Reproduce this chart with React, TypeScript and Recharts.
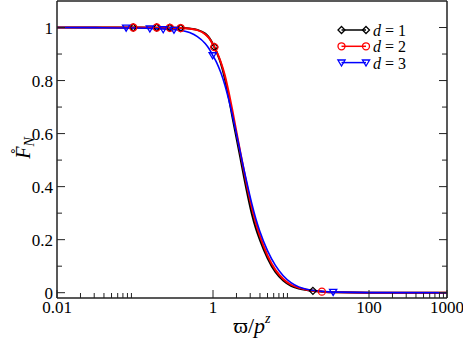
import { ComposedChart, Line, Scatter, XAxis, YAxis, Legend } from "recharts";

// curve samples (x is log-scaled)
const xGrid = [0.01, 0.0316, 0.1, 0.2, 0.316, 0.398, 0.501, 0.631, 0.794, 0.891, 1, 1.122, 1.259, 1.413, 1.585, 1.778, 1.995, 2.239, 2.512, 2.818, 3.162, 3.548, 3.981, 5.012, 6.31, 7.943, 10, 12.59, 15.85, 25.12, 39.81, 100, 1000];
const fD1 = [1, 1, 1, 0.9995, 0.999, 0.998, 0.996, 0.991, 0.977, 0.962, 0.937, 0.905, 0.865, 0.81, 0.74, 0.66, 0.585, 0.51, 0.432, 0.36, 0.295, 0.242, 0.2, 0.13, 0.078, 0.046, 0.026, 0.016, 0.01, 0.004, 0.0015, 0.0002, 0];
const fD2 = [1, 1, 1, 0.9995, 0.999, 0.998, 0.995, 0.99, 0.975, 0.96, 0.936, 0.906, 0.87, 0.822, 0.758, 0.685, 0.607, 0.53, 0.455, 0.383, 0.318, 0.262, 0.215, 0.14, 0.086, 0.052, 0.03, 0.018, 0.011, 0.004, 0.0015, 0.0002, 0];
const fD3 = [1, 0.9995, 0.998, 0.995, 0.992, 0.989, 0.981, 0.966, 0.94, 0.92, 0.893, 0.866, 0.83, 0.785, 0.73, 0.668, 0.6, 0.53, 0.46, 0.395, 0.333, 0.278, 0.232, 0.158, 0.103, 0.064, 0.038, 0.022, 0.013, 0.005, 0.002, 0.0003, 0];

// symbol positions
const markX1 = [0.095, 0.19, 0.28, 0.385, 1.04, 19.1];
const markY1 = [1, 1, 0.999, 0.998, 0.927, 0.007];
const markX2 = [0.095, 0.19, 0.28, 0.385, 1.04, 24.9];
const markY2 = [1, 1, 0.999, 0.998, 0.926, 0.004];
const markX3 = [0.077, 0.155, 0.23, 0.316, 0.99, 34.7];
const markY3 = [0.999, 0.996, 0.993, 0.991, 0.895, 0.0025];

const xMajor = [0.01, 1, 100, 1000];
const xMajorLabels = ["0.01", "1", "100", "1000"];
const xMinor = [0.02, 0.03, 0.04, 0.05, 0.06, 0.07, 0.08, 0.09, 2, 3, 4, 5, 6, 7, 8, 9, 200, 300, 400, 500, 600, 700, 800, 900];
const yMajor = [0, 0.2, 0.4, 0.6, 0.8, 1];
const yMajorLabels = ["0", "0.2", "0.4", "0.6", "0.8", "1"];
const yMinor = [0.1, 0.3, 0.5, 0.7, 0.9];

const legendNames = ["1", "2", "3"];

const FONT = '"Liberation Serif", "Times New Roman", serif';
const AXIS = "#222";
const BLACK = "#000000";
const RED = "#ff0000";
const BLUE = "#0000ff";

const toPoints = (xs: number[], ys: number[]) => xs.map((x, i) => ({ x, y: ys[i] }));
const curve1 = toPoints(xGrid, fD1);
const curve2 = toPoints(xGrid, fD2);
const curve3 = toPoints(xGrid, fD3);
const marks1 = toPoints(markX1, markY1);
const marks2 = toPoints(markX2, markY2);
const marks3 = toPoints(markX3, markY3);

const Diamond = ({ cx, cy, color }: any) => (
  <path d={`M${cx} ${cy - 3.5}L${cx + 3.5} ${cy}L${cx} ${cy + 3.5}L${cx - 3.5} ${cy}Z`} fill="none" stroke={color} strokeWidth={1.3} />
);
const Ring = ({ cx, cy, color }: any) => <circle cx={cx} cy={cy} r={3.5} fill="none" stroke={color} strokeWidth={1.3} />;
const TriDown = ({ cx, cy, color }: any) => (
  <path d={`M${cx - 3.6} ${cy - 2.6}L${cx + 3.6} ${cy - 2.6}L${cx} ${cy + 3.4}Z`} fill="none" stroke={color} strokeWidth={1.3} />
);

const labelOf = (v: number, majors: number[], labels: string[]) => {
  const i = majors.indexOf(v);
  return i >= 0 ? labels[i] : null;
};

const BottomTick = ({ x, y, payload }: any) => {
  const lab = labelOf(payload.value, xMajor, xMajorLabels);
  return (
    <g>
      <line x1={x} x2={x} y1={y} y2={y - (lab ? 8 : 5)} stroke={AXIS} />
      {lab && (
        <text x={x} y={y + 15} textAnchor="middle" fontSize={17} fontFamily={FONT} fill="#000">
          {lab}
        </text>
      )}
    </g>
  );
};
const TopTick = ({ x, y, payload }: any) => {
  const major = xMajor.includes(payload.value);
  return <line x1={x} x2={x} y1={y} y2={y + (major ? 8 : 5)} stroke={AXIS} />;
};
const LeftTick = ({ x, y, payload }: any) => {
  const lab = labelOf(payload.value, yMajor, yMajorLabels);
  return (
    <g>
      <line x1={x} x2={x + (lab ? 8 : 5)} y1={y} y2={y} stroke={AXIS} />
      {lab && (
        <text x={x - 4} y={y + 6} textAnchor="end" fontSize={17} fontFamily={FONT} fill="#000">
          {lab}
        </text>
      )}
    </g>
  );
};
const RightTick = ({ x, y, payload }: any) => {
  const major = yMajor.includes(payload.value);
  return <line x1={x} x2={x - (major ? 8 : 5)} y1={y} y2={y} stroke={AXIS} />;
};

const series = [
  { color: BLACK, Mark: Diamond },
  { color: RED, Mark: Ring },
  { color: BLUE, Mark: TriDown },
];

const LegendBox = () => (
  <svg width={110} height={52} style={{ overflow: "visible" }}>
    {series.map((s, i) => {
      const cy = 10 + i * 16.3;
      return (
        <g key={i}>
          <line x1={5.5} x2={30} y1={cy} y2={cy} stroke={s.color} strokeWidth={1.5} />
          <s.Mark cx={5.5} cy={cy} color={s.color} />
          <s.Mark cx={30} cy={cy} color={s.color} />
          <text x={37} y={cy + 6} fontSize={16} fontFamily={FONT} fill="#000">
            <tspan fontStyle="italic">d</tspan> = {legendNames[i]}
          </text>
        </g>
      );
    })}
  </svg>
);

const xTicks = [...xMajor, ...xMinor].sort((a, b) => a - b);
const yTicks = [...yMajor, ...yMinor].sort((a, b) => a - b);

const axisCommon = {
  type: "number" as const,
  allowDataOverflow: true,
  interval: 0 as const,
  tickSize: 0,
  tickMargin: 0,
  tickLine: false,
  axisLine: { stroke: AXIS, strokeWidth: 1.5 },
};

export default function App() {
  return (
    <div style={{ position: "absolute", left: 0, top: 0, width: 463, height: 339, background: "#fff" }}>
      <ComposedChart width={463} height={339} margin={{ top: 0, right: 15, bottom: 40, left: 56 }}>
        <XAxis {...axisCommon} xAxisId="b" dataKey="x" scale="log" domain={[0.01, 1000]} ticks={xTicks} height={1} tick={BottomTick} />
        <XAxis {...axisCommon} xAxisId="t" orientation="top" scale="log" domain={[0.01, 1000]} ticks={xTicks} height={1} tick={TopTick} />
        <YAxis {...axisCommon} yAxisId="l" dataKey="y" domain={[-0.02, 1.1]} ticks={yTicks} width={1} tick={LeftTick} />
        <YAxis {...axisCommon} yAxisId="r" orientation="right" domain={[-0.02, 1.1]} ticks={yTicks} width={1} tick={RightTick} />

        <Line xAxisId="b" yAxisId="l" data={curve1} dataKey="y" type="monotone" stroke={BLACK} strokeWidth={2} dot={false} isAnimationActive={false} />
        <Scatter xAxisId="b" yAxisId="l" data={marks1} shape={(p: any) => <Diamond cx={p.cx} cy={p.cy} color={BLACK} />} isAnimationActive={false} />
        <Line xAxisId="b" yAxisId="l" data={curve2} dataKey="y" type="monotone" stroke={RED} strokeWidth={2} dot={false} isAnimationActive={false} />
        <Scatter xAxisId="b" yAxisId="l" data={marks2} shape={(p: any) => <Ring cx={p.cx} cy={p.cy} color={RED} />} isAnimationActive={false} />
        <Line xAxisId="b" yAxisId="l" data={curve3} dataKey="y" type="monotone" stroke={BLUE} strokeWidth={1.6} dot={false} isAnimationActive={false} />
        <Scatter xAxisId="b" yAxisId="l" data={marks3} shape={(p: any) => <TriDown cx={p.cx} cy={p.cy} color={BLUE} />} isAnimationActive={false} />

        <Legend
          layout="vertical"
          align="center"
          verticalAlign="middle"
          content={() => <LegendBox />}
          wrapperStyle={{ position: "absolute", left: 336, top: 20, width: 110, height: 52 }}
        />

        <text x={252} y={333} textAnchor="middle" fontSize={22} fontFamily={FONT} fill="#000">
          ϖ/<tspan fontStyle="italic">p</tspan>
          <tspan fontStyle="italic" fontSize={14} dy={-10}>z</tspan>
        </text>
        <text transform="translate(30,148) rotate(-90)" textAnchor="middle" fontSize={20} fontFamily={FONT} fill="#000">
          <tspan fontStyle="italic">F̊</tspan>
          <tspan fontStyle="italic" fontSize={14} dy={4}>N</tspan>
        </text>
      </ComposedChart>
    </div>
  );
}
